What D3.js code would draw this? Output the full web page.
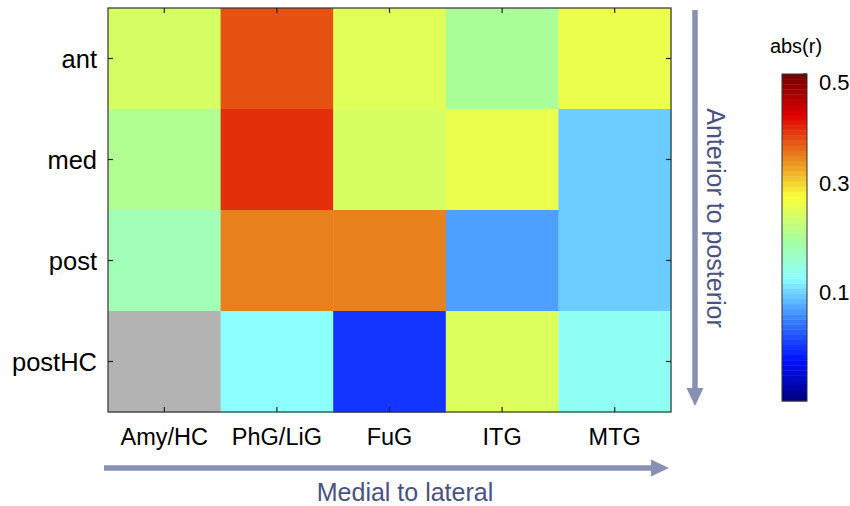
<!DOCTYPE html>
<html>
<head>
<meta charset="utf-8">
<script src="https://cdn.jsdelivr.net/npm/d3@7"></script>
<style>
  html, body { margin: 0; padding: 0; background: #fff; }
  svg { display: block; font-family: "Liberation Sans", Arial, Helvetica, sans-serif; }
</style>
</head>
<body>
<svg id="chart" width="850" height="506"></svg>
<script>
// ---- data ----
const rowLabels = ["ant", "med", "post", "postHC"];
const colLabels = ["Amy/HC", "PhG/LiG", "FuG", "ITG", "MTG"];
const valuesAnt    = [0.241, 0.377, 0.251, 0.200, 0.261];
const valuesMed    = [0.206, 0.397, 0.243, 0.261, 0.095];
const valuesPost   = [0.177, 0.350, 0.350, 0.069, 0.095];
const valuesPostHC = [null,  0.125, 0.000, 0.247, 0.134];
const colorDomain = [-0.1, 0.5];
const colorbarTicks = [0.5, 0.4, 0.3, 0.2, 0.1, 0.0];
const colorbarTickLabels = ["0.5", "", "0.3", "", "0.1", ""];
const colorbarTitle = "abs(r)";
const xTitle = "Medial to lateral";
const yTitle = "Anterior to posterior";
// washed-out jet colormap as it appears in the picture
const jetStops = ["#00007c", "#0010ff", "#3880ff", "#8cffff", "#aaff98",
                  "#faff3a", "#e8801c", "#e00000", "#700000"];

const table = [valuesAnt, valuesMed, valuesPost, valuesPostHC];
const cells = [];
table.forEach((row, i) => row.forEach((v, j) => cells.push({ row: rowLabels[i], col: colLabels[j], v })));

// ---- layout ----
const svg = d3.select("#chart");
const plot = { x0: 108, x1: 671, y0: 8, y1: 412 };
const cbar = { x0: 782, x1: 807, y0: 74, y1: 401 };
const arrowColor = "#8890b5";
const titleColor = "#4a5280";

const x = d3.scaleBand().domain(colLabels).range([plot.x0, plot.x1]);
const y = d3.scaleBand().domain(rowLabels).range([plot.y0, plot.y1]);
const jetInterp = d3.piecewise(d3.interpolateRgb, jetStops);
const tScale = d3.scaleLinear().domain(colorDomain).range([0, 1]).clamp(true);
const color = v => (v == null ? "#b3b3b3" : jetInterp(tScale(v)));

// cells
svg.append("g").selectAll("rect").data(cells).join("rect")
  .attr("x", d => x(d.col))
  .attr("y", d => y(d.row))
  .attr("width", x.bandwidth() + 0.5)
  .attr("height", y.bandwidth() + 0.5)
  .attr("fill", d => color(d.v));

// axes frame
svg.append("rect")
  .attr("x", plot.x0).attr("y", plot.y0)
  .attr("width", plot.x1 - plot.x0).attr("height", plot.y1 - plot.y0)
  .attr("fill", "none").attr("stroke", "#333").attr("stroke-width", 1.2);

// ticks (inward) on all four sides
const tickG = svg.append("g").attr("stroke", "#222").attr("stroke-width", 1.2);
const tl = 5;
rowLabels.forEach(r => {
  const cy = y(r) + y.bandwidth() / 2;
  tickG.append("line").attr("x1", plot.x0).attr("x2", plot.x0 + tl).attr("y1", cy).attr("y2", cy);
  tickG.append("line").attr("x1", plot.x1).attr("x2", plot.x1 - tl).attr("y1", cy).attr("y2", cy);
});
colLabels.forEach(c => {
  const cx = x(c) + x.bandwidth() / 2;
  tickG.append("line").attr("x1", cx).attr("x2", cx).attr("y1", plot.y1).attr("y2", plot.y1 - tl);
  tickG.append("line").attr("x1", cx).attr("x2", cx).attr("y1", plot.y0).attr("y2", plot.y0 + tl);
});

// tick labels
svg.append("g").selectAll("text").data(rowLabels).join("text")
  .attr("x", 97)
  .attr("y", d => y(d) + y.bandwidth() / 2)
  .attr("text-anchor", "end")
  .attr("dominant-baseline", "central")
  .attr("font-size", 25.5)
  .attr("fill", "#000")
  .text(d => d);

svg.append("g").selectAll("text").data(colLabels).join("text")
  .attr("x", d => x(d) + x.bandwidth() / 2)
  .attr("y", 437)
  .attr("text-anchor", "middle")
  .attr("dominant-baseline", "central")
  .attr("font-size", 23.5)
  .attr("fill", "#000")
  .text(d => d);

// arrows
function arrow(x1, y1, x2, y2) {
  const ang = Math.atan2(y2 - y1, x2 - x1);
  const headLen = 18, headHalf = 8.5;
  const bx = x2 - headLen * Math.cos(ang), by = y2 - headLen * Math.sin(ang);
  svg.append("line")
    .attr("x1", x1).attr("y1", y1).attr("x2", bx).attr("y2", by)
    .attr("stroke", arrowColor).attr("stroke-width", 5.5);
  const px = -Math.sin(ang), py = Math.cos(ang);
  svg.append("path")
    .attr("d", `M${x2},${y2}L${bx + px * headHalf},${by + py * headHalf}L${bx - px * headHalf},${by - py * headHalf}Z`)
    .attr("fill", arrowColor);
}
arrow(104, 468, 669, 468);
arrow(695, 10, 695, 406);

svg.append("text")
  .attr("x", 405).attr("y", 492)
  .attr("text-anchor", "middle").attr("dominant-baseline", "central")
  .attr("font-size", 25).attr("fill", titleColor)
  .text(xTitle);

svg.append("text")
  .attr("transform", "translate(716,218) rotate(90)")
  .attr("text-anchor", "middle").attr("dominant-baseline", "central")
  .attr("font-size", 25).attr("fill", titleColor)
  .text(yTitle);

// colorbar
const cbY = d3.scaleLinear().domain(colorDomain).range([cbar.y1, cbar.y0]);
const nBands = 64;
const bands = d3.range(nBands).map(i => colorDomain[0] + (i + 0.5) * (colorDomain[1] - colorDomain[0]) / nBands);
const bandH = (cbar.y1 - cbar.y0) / nBands;
svg.append("g").selectAll("rect").data(bands).join("rect")
  .attr("x", cbar.x0)
  .attr("y", d => cbY(d) - bandH / 2)
  .attr("width", cbar.x1 - cbar.x0)
  .attr("height", bandH + 0.4)
  .attr("fill", d => color(d));
svg.append("rect")
  .attr("x", cbar.x0).attr("y", cbar.y0)
  .attr("width", cbar.x1 - cbar.x0).attr("height", cbar.y1 - cbar.y0)
  .attr("fill", "none").attr("stroke", "#333").attr("stroke-width", 1);
colorbarTicks.forEach(t => {
  tickG.append("line").attr("x1", cbar.x1).attr("x2", cbar.x1 - 4).attr("y1", cbY(t)).attr("y2", cbY(t));
});
svg.append("g").selectAll("text").data(colorbarTicks).join("text")
  .attr("x", 819)
  .attr("y", (d, i) => cbY(d) + (i === 0 ? 8 : 0))
  .attr("dominant-baseline", "central")
  .attr("font-size", 22)
  .attr("fill", "#000")
  .text((d, i) => colorbarTickLabels[i]);
svg.append("text")
  .attr("x", 796).attr("y", 46)
  .attr("text-anchor", "middle").attr("dominant-baseline", "central")
  .attr("font-size", 20).attr("fill", "#000")
  .text(colorbarTitle);
</script>
</body>
</html>
